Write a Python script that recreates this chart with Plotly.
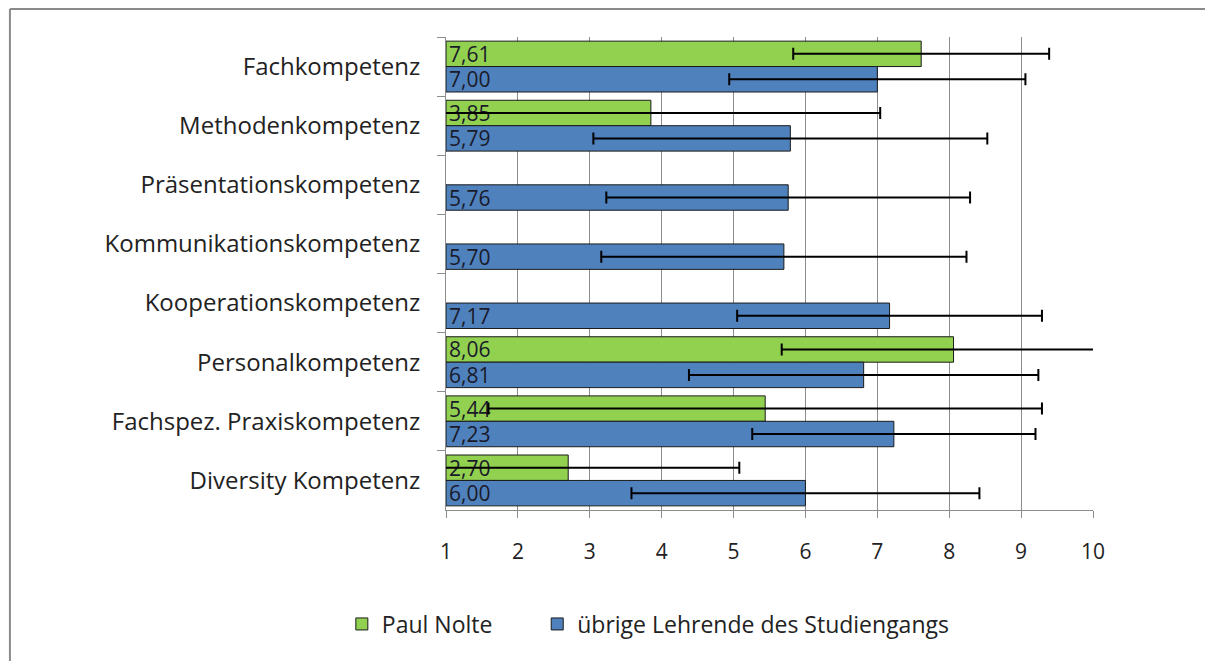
import plotly.graph_objects as go

categories = ["Fachkompetenz", "Methodenkompetenz", "Präsentationskompetenz",
              "Kommunikationskompetenz", "Kooperationskompetenz", "Personalkompetenz",
              "Fachspez. Praxiskompetenz", "Diversity Kompetenz"]
nolte = [7.61, 3.85, None, None, None, 8.06, 5.44, 2.70]
nolte_sd = [1.78, 3.19, None, None, None, 2.39, 3.85, 2.38]
others = [7.00, 5.79, 5.76, 5.70, 7.17, 6.81, 7.23, 6.00]
others_sd = [2.06, 2.74, 2.53, 2.54, 2.12, 2.43, 1.97, 2.42]
series_names = ["Paul Nolte", "übrige Lehrende des Studiengangs"]
x_ticks = [1, 2, 3, 4, 5, 6, 7, 8, 9, 10]

def fmt(v):
    return "" if v is None else f"{v:.2f}".replace(".", ",")

def base_len(vals):
    return [None if v is None else v - 1 for v in vals]

fig = go.Figure()
for name, vals, sds, color, leg in [(series_names[0], nolte, nolte_sd, "#92D050", "legend"),
                                     (series_names[1], others, others_sd, "#4F81BD", "legend2")]:
    fig.add_trace(go.Bar(
        y=categories, x=base_len(vals), base=1, orientation="h", name=name,
        legend=leg,
        marker=dict(color=color, line=dict(color="#1a1a1a", width=1)),
        text=[fmt(v) for v in vals], textposition="inside", insidetextanchor="start",
        constraintext="none",
        textfont=dict(family="Open Sans", size=21, color="#1a1a2a"),
        error_x=dict(type="data", array=[0 if s is None else s for s in sds],
                     color="#000000", thickness=2, width=6),
        hoverinfo="skip",
    ))

legend_common = dict(orientation="h", y=-0.241, yanchor="middle", xanchor="left",
                     font=dict(family="Open Sans", size=23, color="#222222"),
                     itemwidth=30, bgcolor="rgba(0,0,0,0)")

fig.update_layout(
    width=1213, height=661,
    margin=dict(l=438, r=128, t=29, b=159),
    paper_bgcolor="white", plot_bgcolor="white",
    barmode="group", bargap=0.14, bargroupgap=0,
    font=dict(family="Open Sans", size=20, color="#222222"),
    showlegend=True,
    legend=dict(x=-0.161, **legend_common),
    legend2=dict(x=0.141, **legend_common),
    xaxis=dict(range=[1, 10], tickvals=x_ticks, ticktext=[str(t) for t in x_ticks],
               showgrid=True, gridcolor="#8c8c8c", gridwidth=1,
               showline=True, linecolor="#8c8c8c", linewidth=1,
               ticks="outside", ticklen=7, tickcolor="#8c8c8c", ticklabelstandoff=16,
               tickfont=dict(size=21), zeroline=False, fixedrange=True),
    yaxis=dict(autorange="reversed", showline=True, linecolor="#8c8c8c", linewidth=1,
               ticks="outside", ticklen=8, tickcolor="#8c8c8c", tickson="boundaries",
               ticklabelstandoff=20,
               tickfont=dict(size=24), showgrid=False, fixedrange=True),
    shapes=[
        dict(type="line", xref="paper", yref="paper", x0=-0.674, x1=1.3,
             y0=1.059, y1=1.059, line=dict(color="#8a8a8a", width=2)),
        dict(type="line", xref="paper", yref="paper", x0=-0.674, x1=-0.674,
             y0=1.059, y1=-0.4, line=dict(color="#8a8a8a", width=2)),
    ],
)

fig.write_html("out.html")
